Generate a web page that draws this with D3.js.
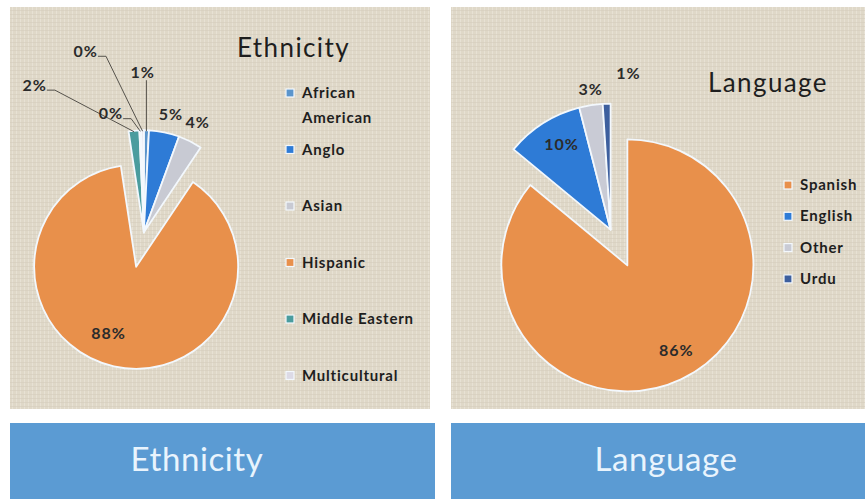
<!DOCTYPE html>
<html>
<head>
<meta charset="utf-8">
<script src="https://cdn.jsdelivr.net/npm/d3@7"></script>
<style>
  body { margin: 0; background: #ffffff; }
  svg { display: block; }
</style>
</head>
<body>
<svg id="chart" width="865" height="499"></svg>
<script>
// ---- data ----
const ethnicityCategories = ["African American", "Anglo", "Asian", "Hispanic", "Middle Eastern", "Multicultural", ""];
const ethnicityValues = [0.8, 4.8, 3.8, 88.2, 1.7, 0.3, 0.4];
const ethnicityColors = ["#5b95cc", "#2e7bd6", "#c8cad3", "#e8904b", "#4a9c9e", "#dcdae6", "#e9e6ee"];

const languageCategories = ["Spanish", "English", "Other", "Urdu"];
const languageValues = [86, 10, 3, 1];
const languageColors = ["#e8904b", "#2e7bd6", "#c9cbd5", "#3d5f9e"];

const panelTitles = ["Ethnicity", "Language"];

// ---- layout ----
const FONT = "Lato, 'Open Sans', sans-serif";
const svg = d3.select("#chart");

// linen-like panel texture
const defs = svg.append("defs");
const pat = defs.append("pattern").attr("id", "linen")
  .attr("width", 4).attr("height", 4).attr("patternUnits", "userSpaceOnUse");
pat.append("rect").attr("width", 4).attr("height", 4).attr("fill", "#dfd8c8");
pat.append("rect").attr("x", 0).attr("width", 1).attr("height", 4).attr("fill", "#e7e1d4");
pat.append("rect").attr("y", 2).attr("width", 4).attr("height", 1).attr("fill", "#d6cdbc").attr("opacity", 0.6);

const panels = [
  { x: 10, y: 7, w: 420, h: 402 },
  { x: 451, y: 7, w: 414, h: 402 }
];
const bars = [
  { x: 10, y: 423, w: 425, h: 76, tx: 197 },
  { x: 451, y: 423, w: 414, h: 76, tx: 666 }
];

panels.forEach(p => {
  svg.append("rect").attr("x", p.x).attr("y", p.y).attr("width", p.w).attr("height", p.h)
    .attr("fill", "url(#linen)");
});
bars.forEach((b, i) => {
  svg.append("rect").attr("x", b.x).attr("y", b.y).attr("width", b.w).attr("height", b.h)
    .attr("fill", "#5b9bd3");
  svg.append("text").attr("x", b.tx).attr("y", 471)
    .attr("text-anchor", "middle").attr("font-family", FONT).attr("font-size", 33)
    .attr("letter-spacing", 0.6)
    .attr("fill", "#e9f4fd").text(panelTitles[i]);
});

const fmt = d3.format(".0%");

function drawPie(cfg) {
  const g = svg.append("g");
  const pie = d3.pie().sort(null).value(d => d.value);
  const data = cfg.categories.map((c, i) => ({ name: c, value: cfg.values[i], color: cfg.colors[i], i }));
  const arcs = pie(data);
  const mainIdx = d3.maxIndex(cfg.values);
  const main = arcs[mainIdx];
  const mainMid = (main.startAngle + main.endAngle) / 2;
  const restMid = mainMid + Math.PI;

  const arc = d3.arc().innerRadius(0).outerRadius(cfg.r);

  // the largest slice and the group of small ones are pulled apart
  arcs.forEach(a => {
    const ang = a.index === mainIdx ? mainMid : restMid;
    a.ox = cfg.cx + cfg.explode * Math.sin(ang);
    a.oy = cfg.cy - cfg.explode * Math.cos(ang);
  });

  g.selectAll("path.slice").data(arcs).join("path")
    .attr("class", "slice")
    .attr("transform", d => `translate(${d.ox},${d.oy})`)
    .attr("d", arc)
    .attr("fill", d => d.data.color)
    .attr("stroke", "#f3f8fd")
    .attr("stroke-width", 1.8)
    .attr("stroke-linejoin", "round");

  // data labels
  arcs.forEach(a => {
    const lp = cfg.labels[a.index];
    const t = lp[0] * Math.PI / 180;
    const lx = a.ox + lp[1] * Math.sin(t);
    const ly = a.oy - lp[1] * Math.cos(t);
    const txt = g.append("text").attr("x", lx).attr("y", ly)
      .attr("text-anchor", "middle").attr("dominant-baseline", "central")
      .attr("font-family", FONT).attr("font-weight", 700).attr("font-size", 16)
      .attr("letter-spacing", 1)
      .attr("fill", "#2b2b2b").text(fmt(a.data.value / 100));
    const kind = lp[2];
    if (kind) {
      const mid = (a.startAngle + a.endAngle) / 2;
      const px = a.ox + (cfg.r - 1) * Math.sin(mid);
      const py = a.oy - (cfg.r - 1) * Math.cos(mid);
      const w = txt.node().getComputedTextLength();
      let pts;
      if (kind === "v") {
        pts = [[px, ly + 9], [px, py]];
      } else {
        const sx = lx + w / 2, sy = ly + 6;
        pts = [[sx, sy], [sx + 8, sy], [px, py]];
      }
      g.append("path").attr("d", d3.line()(pts))
        .attr("fill", "none").attr("stroke", "#55524c").attr("stroke-width", 1);
    }
  });

  // title
  g.append("text").attr("x", cfg.title.x).attr("y", cfg.title.y)
    .attr("font-family", FONT).attr("font-size", 26).attr("letter-spacing", 1.4)
    .attr("fill", "#1e1e1e")
    .text(cfg.title.text);

  // legend
  const items = data.filter(d => d.name !== "");
  items.forEach((d, k) => {
    const y = cfg.legend.y0 + k * cfg.legend.step;
    g.append("rect").attr("x", cfg.legend.x - 4).attr("y", y - 4)
      .attr("width", 8).attr("height", 8)
      .attr("fill", d.color).attr("stroke", "#f3f8fd").attr("stroke-width", 1.2);
    const tx = cfg.legend.x + 12;
    const t = g.append("text").attr("x", tx).attr("y", y + 5)
      .attr("font-family", FONT).attr("font-weight", 700).attr("font-size", 15)
      .attr("letter-spacing", 0.8)
      .attr("fill", "#1e1e1e");
    // wrap long entries onto a second line
    const words = d.name.split(" ");
    let line = [], ts = t.append("tspan").attr("x", tx);
    words.forEach(wd => {
      line.push(wd);
      ts.text(line.join(" "));
      if (ts.node().getComputedTextLength() > cfg.legend.wrap && line.length > 1) {
        line.pop();
        ts.text(line.join(" "));
        line = [wd];
        ts = t.append("tspan").attr("x", tx).attr("dy", 25).text(wd);
      }
    });
  });
}

drawPie({
  categories: ethnicityCategories, values: ethnicityValues, colors: ethnicityColors,
  cx: 140, cy: 249.5, r: 102, explode: 17.7,
  // [angle°, distance, leader]
  labels: [[-0.4, 161, "v"], [12.8, 122], [26, 123], [202.9, 71], [-36.4, 184, "e"], [-15.4, 124, "e"], [-17.7, 191, "e"]],
  title: { text: panelTitles[0], x: 237, y: 57 },
  legend: { x: 290, y0: 93, step: 56.5, wrap: 118 }
});

drawPie({
  categories: languageCategories, values: languageValues, colors: languageColors,
  cx: 619, cy: 247.5, r: 126, explode: 19.7,
  labels: [[149.7, 97], [330.3, 99], [-8, 143], [6.5, 158]],
  title: { text: panelTitles[1], x: 708, y: 92 },
  legend: { x: 788, y0: 185, step: 31.3, wrap: 200 }
});
</script>
</body>
</html>
